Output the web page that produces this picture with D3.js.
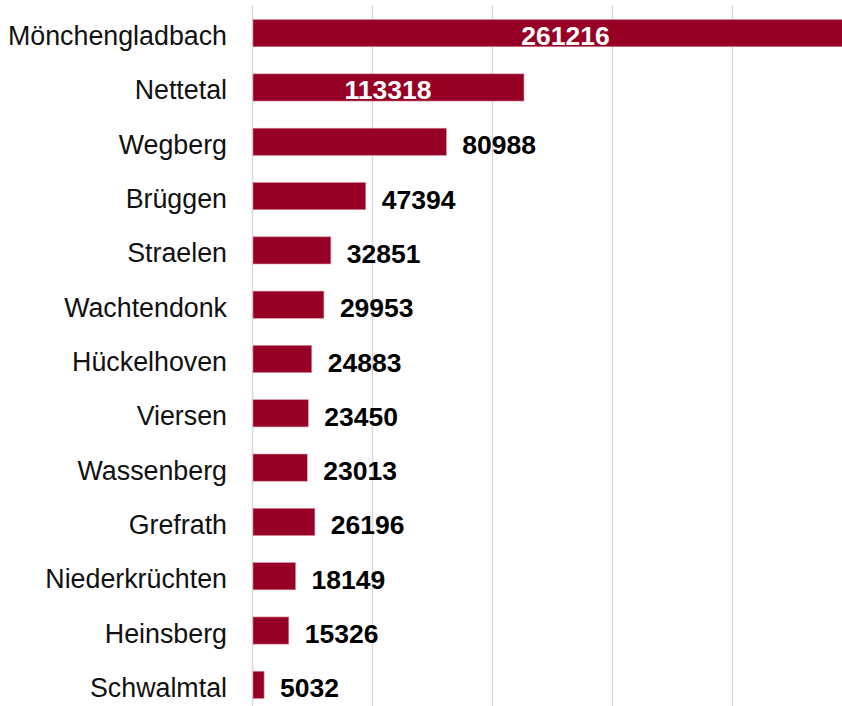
<!DOCTYPE html>
<html>
<head>
<meta charset="utf-8">
<script src="https://cdn.jsdelivr.net/npm/d3@7"></script>
<style>
  html, body { margin: 0; padding: 0; background: #fff; }
  svg { display: block; font-family: "Liberation Sans", Arial, sans-serif; }
</style>
</head>
<body>
<div id="chart"></div>
<script>
// --- data ---
const places = ["Mönchengladbach", "Nettetal", "Wegberg", "Brüggen", "Straelen", "Wachtendonk",
  "Hückelhoven", "Viersen", "Wassenberg", "Grefrath", "Niederkrüchten", "Heinsberg", "Schwalmtal"];
const values = [261216, 113318, 80988, 47394, 32851, 29953, 24883, 23450, 23013, 26196, 18149, 15326, 5032];
const gridTicks = [0, 50000, 100000, 150000, 200000, 250000];

const width = 842, height = 706;
const left = 252;

const svg = d3.select("#chart").append("svg")
  .attr("width", width)
  .attr("height", height);

const x = d3.scaleLinear().domain([0, 250000]).range([left, left + 600]);
const y = d3.scaleBand().domain(places).range([6, 712]).paddingInner(0.5).paddingOuter(0.25);

const rows = places.map((p, i) => ({ name: p, value: values[i] }));

// --- gridlines ---
svg.append("g")
  .selectAll("line")
  .data(gridTicks)
  .join("line")
  .attr("x1", d => x(d) + 0.5)
  .attr("x2", d => x(d) + 0.5)
  .attr("y1", 6)
  .attr("y2", height)
  .attr("stroke", "#d9d9d9")
  .attr("stroke-width", 1.5);

// --- bars ---
svg.append("g")
  .selectAll("rect")
  .data(rows)
  .join("rect")
  .attr("x", x(0) + 1)
  .attr("y", d => y(d.name))
  .attr("width", d => x(d.value) - x(0) - 1)
  .attr("height", y.bandwidth())
  .attr("fill", "#950024")
  .attr("stroke", "#d98a9c")
  .attr("stroke-width", 0.6);

// --- category labels ---
svg.append("g")
  .selectAll("text")
  .data(rows)
  .join("text")
  .attr("x", 227)
  .attr("y", d => y(d.name) + y.bandwidth() / 2 + 12)
  .attr("text-anchor", "end")
  .attr("font-size", 26.8)
  .attr("fill", "#111")
  .text(d => d.name);

// --- value labels (big bars get a white label inside) ---
const inside = d => x(d.value) - x(0) > 250;
svg.append("g")
  .selectAll("text")
  .data(rows)
  .join("text")
  .attr("x", d => inside(d) ? (x(0) + x(d.value)) / 2 : x(d.value) + 16)
  .attr("y", d => y(d.name) + y.bandwidth() / 2 + (inside(d) ? 11.5 : 12.5))
  .attr("text-anchor", d => inside(d) ? "middle" : "start")
  .attr("font-size", 26.5)
  .attr("font-weight", "bold")
  .attr("fill", d => inside(d) ? "#fff" : "#000")
  .text(d => d.value);
</script>
</body>
</html>
